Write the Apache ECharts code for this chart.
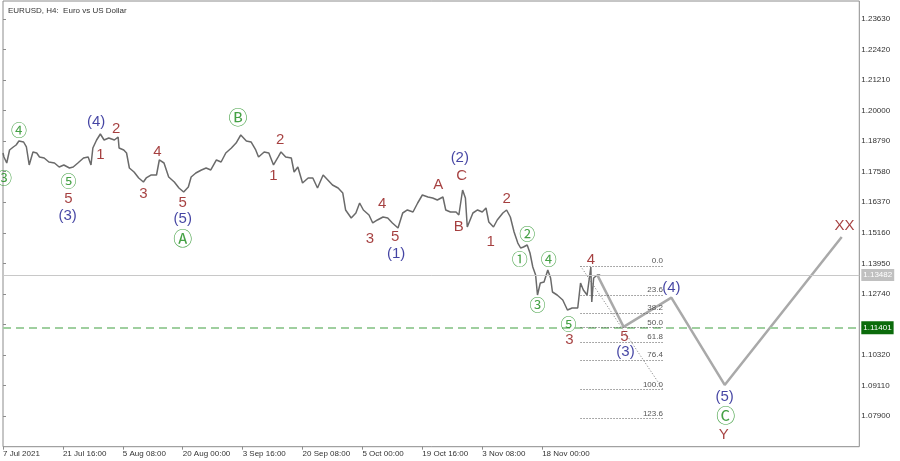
<!DOCTYPE html>
<html>
<head>
<meta charset="utf-8">
<script src="https://cdn.jsdelivr.net/npm/echarts@6/dist/echarts.min.js"></script>
<style>html,body{margin:0;padding:0;background:#fff}#c{width:900px;height:461px}</style>
</head>
<body>
<div id="c"></div>
<script>
// ---- data ----
const chartTitle = 'EURUSD, H4:  Euro vs US Dollar';
const xTickBars = [0, 64, 128, 192, 256, 320, 384, 448, 512, 576];
const xTickLabels = ['7 Jul 2021', '21 Jul 16:00', '5 Aug 08:00', '20 Aug 00:00', '3 Sep 16:00', '20 Sep 08:00', '5 Oct 00:00', '19 Oct 16:00', '3 Nov 08:00', '18 Nov 00:00'];
const yTickValues = [1.0790, 1.0911, 1.1032, 1.1153, 1.1274, 1.1395, 1.1516, 1.1637, 1.1758, 1.1879, 1.2000, 1.2121, 1.2242, 1.2363];

const priceBars = [0,1,4,7,11,14,17,22,25,28,32,36,39,44,49,55,60,65,71,75,80,86,91,94,96,100,104,108,113,119,123,124,129,132,135,140,145,150,153,158,164,167,172,177,183,188,193,198,201,206,212,217,222,228,233,238,244,249,254,260,265,270,273,279,284,289,294,297,302,308,311,315,320,326,331,336,342,347,352,358,363,366,372,377,381,385,391,395,400,406,411,416,422,427,432,438,443,448,454,459,464,470,473,478,484,487,491,494,496,502,507,512,516,519,524,528,534,538,542,546,550,553,556,560,563,566,569,571,574,578,582,585,587,592,598,603,608,614,617,620,624,628,629,631,635,638];
const priceValues = [1.18320,1.18162,1.17924,1.18439,1.18558,1.18637,1.18796,1.18756,1.18558,1.17845,1.18360,1.18320,1.18162,1.18122,1.17963,1.17924,1.17765,1.17845,1.17726,1.17765,1.17924,1.18122,1.18162,1.17845,1.18518,1.18835,1.19073,1.18835,1.18914,1.18835,1.18954,1.18518,1.18439,1.18320,1.17726,1.17567,1.17330,1.17171,1.17330,1.17448,1.17448,1.18043,1.17924,1.17369,1.17171,1.16933,1.16775,1.16973,1.17369,1.17528,1.17647,1.17726,1.17647,1.18043,1.17963,1.18320,1.18518,1.18716,1.19033,1.18796,1.18756,1.18439,1.18162,1.18360,1.18320,1.17845,1.18162,1.18360,1.18162,1.18122,1.17567,1.17765,1.17131,1.17330,1.17330,1.16933,1.17448,1.17250,1.17052,1.16933,1.16735,1.16062,1.15745,1.15943,1.16339,1.16062,1.15864,1.15547,1.15666,1.15784,1.15745,1.15547,1.15349,1.15943,1.16062,1.15982,1.16339,1.16656,1.16577,1.16537,1.16458,1.16577,1.16062,1.15982,1.15982,1.15864,1.16854,1.16537,1.15388,1.15943,1.16062,1.15982,1.16141,1.15586,1.15388,1.15666,1.15943,1.16062,1.15784,1.15190,1.14754,1.14556,1.14596,1.14675,1.14358,1.13803,1.13486,1.12694,1.13169,1.13209,1.13685,1.13368,1.12813,1.12694,1.12496,1.12100,1.12179,1.12179,1.13169,1.12892,1.12694,1.13800,1.12417,1.13368,1.13486,1.13482];

const projBars = [635, 663, 714, 771, 896];
const projValues = [1.13482, 1.11430, 1.12590, 1.09130, 1.14990];

const currentPrice = 1.13482;
const targetLevel = 1.11401;

const fibStartBar = 617;
const fibEndBar = 705;
const fibHigh = 1.13843;
const fibLow = 1.08958;
const fibLevels = [0.0, 23.6, 38.2, 50.0, 61.8, 76.4, 100.0, 123.6];

const waveTexts = ['③','④','⑤','5','(3)','(4)','2','1','4','3','5','(5)','Ⓐ','Ⓑ','2','1','4','3','5','(1)','A','(2)','C','B','2','1','②','①','④','③','⑤','3','4','5','(3)','(4)','(5)','Ⓒ','Y','XX'];
const waveBars = [1,17,70,70,69,99.5,121,104,165,150,192,192,192,251,296,289,405,392,419,420,465,488,490,487,538,521,560,552,583,571,604,605,628,664,665,714,771,772,770,899];
const wavePrices = [1.1733,1.19231,1.17211,1.16498,1.15824,1.1956,1.19271,1.18241,1.18372,1.16684,1.16351,1.15693,1.14913,1.19734,1.18835,1.17421,1.16288,1.14913,1.14992,1.14318,1.17052,1.1811,1.17421,1.154,1.16486,1.14806,1.15099,1.1412,1.1412,1.12298,1.11533,1.10911,1.14081,1.11018,1.10448,1.12959,1.08665,1.07912,1.07147,1.15428];
const waveDegree = ['g','g','g','r','n','n','r','r','r','r','r','n','G','G','r','r','r','r','r','n','r','n','r','r','r','r','g','g','g','g','g','r','r','r','n','n','n','G','r','r'];

// ---- styles ----
const degreeStyle = {
  r: {color: '#8f0f0f', fontSize: 15, fontFamily: 'Liberation Sans'},
  n: {color: '#15158c', fontSize: 15, fontFamily: 'Liberation Sans'},
  g: {color: '#168a16', fontSize: 16, fontFamily: 'Noto Sans CJK SC'},
  G: {color: '#168a16', fontSize: 19, fontFamily: 'Noto Sans CJK SC'}
};

const X_MIN = 0, X_MAX = 914.8;
const priceData = priceBars.map((b, i) => [b, priceValues[i]]);
const projData = projBars.map((b, i) => [b, projValues[i]]);
const waveData = waveTexts.map((t, i) => ({
  value: [waveBars[i], wavePrices[i]],
  name: t,
  label: Object.assign({show: true, position: 'inside', formatter: t}, degreeStyle[waveDegree[i]])
}));

const fibLines = fibLevels.map(l => {
  const p = fibHigh - (fibHigh - fibLow) * l / 100;
  return [
    {coord: [fibStartBar, p], label: {show: true, position: 'insideEndTop', formatter: l.toFixed(1), color: '#555', fontSize: 8, fontFamily: 'Liberation Sans', distance: [0, 1]}},
    {coord: [fibEndBar, p]}
  ];
});
fibLines.push([
  {coord: [fibStartBar, fibHigh], lineStyle: {type: [1, 2], color: '#777', width: 1}, label: {show: false}},
  {coord: [fibEndBar, fibLow]}
]);

const levelLines = [
  [
    {coord: [X_MIN, currentPrice], lineStyle: {color: '#c8c8c8', type: 'solid', width: 1},
     label: {show: true, position: 'end', distance: 2, formatter: currentPrice.toFixed(5), color: '#fff', backgroundColor: '#c0c0c0', padding: [2, 2, 2, 2], fontSize: 8, fontFamily: 'Liberation Sans'}},
    {coord: [X_MAX, currentPrice]}
  ],
  [
    {coord: [X_MIN, targetLevel], lineStyle: {color: '#9fcf9f', type: [8, 5], width: 2},
     label: {show: true, position: 'end', distance: 2, formatter: targetLevel.toFixed(5), color: '#fff', backgroundColor: '#0b6b0b', padding: [3, 2, 2, 2], fontSize: 8, fontFamily: 'Liberation Sans'}},
    {coord: [X_MAX, targetLevel]}
  ]
];

const axisFont = {color: '#333', fontSize: 8, fontFamily: 'Liberation Sans'};

const chart = echarts.init(document.getElementById('c'), null, {renderer: 'canvas'});
chart.setOption({
  animation: false,
  backgroundColor: '#fff',
  title: {text: chartTitle, left: 3, top: 2, textStyle: {color: '#333', fontSize: 8, fontWeight: 'normal', fontFamily: 'Liberation Sans'}},
  grid: {left: 1.7, right: 40.7, top: 1, bottom: 14.3, show: true, borderColor: '#8c8c8c', borderWidth: 1, backgroundColor: 'transparent'},
  xAxis: {
    type: 'value', min: X_MIN, max: X_MAX,
    axisLine: {show: false},
    splitLine: {show: false},
    axisTick: {show: true, length: 3, lineStyle: {color: '#8c8c8c'}, customValues: xTickBars},
    axisLabel: Object.assign({show: true, align: 'left', margin: 3, customValues: xTickBars,
      formatter: v => xTickLabels[xTickBars.indexOf(Math.round(v))] || ''}, axisFont)
  },
  yAxis: {
    type: 'value', position: 'right', min: 1.06684, max: 1.24342,
    axisLine: {show: false},
    splitLine: {show: false},
    axisTick: {show: true, length: 3, lineStyle: {color: '#8c8c8c'}, customValues: yTickValues},
    axisLabel: Object.assign({show: true, margin: 2, customValues: yTickValues, formatter: v => v.toFixed(5)}, axisFont)
  },
  series: [
    {
      type: 'line', data: priceData, showSymbol: false, symbol: 'none',
      lineStyle: {color: '#6a6a6a', width: 1.5}, z: 3,
      markLine: {silent: true, symbol: ['none', 'none'], data: levelLines}
    },
    {
      type: 'line', data: projData, showSymbol: false, symbol: 'none',
      lineStyle: {color: '#a9a9a9', width: 2.5}, z: 4,
      markLine: {
        silent: true, symbol: ['none', 'none'],
        lineStyle: {color: '#555', type: [1, 2], width: 1},
        data: fibLines
      }
    },
    {
      type: 'scatter', data: waveData, symbolSize: 0, z: 5, silent: true
    }
  ]
});
</script>
</body>
</html>
